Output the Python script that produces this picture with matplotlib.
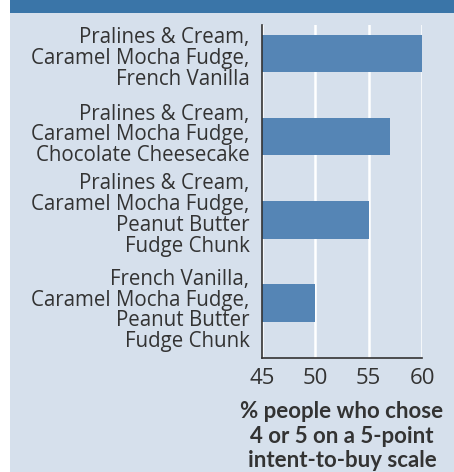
import matplotlib
matplotlib.use("Agg")
import matplotlib.pyplot as plt
from matplotlib.patches import Rectangle
from matplotlib.transforms import ScaledTranslation

# flavour combinations, top to bottom
combos = [
    "Pralines & Cream,\nCaramel Mocha Fudge,\nFrench Vanilla",
    "Pralines & Cream,\nCaramel Mocha Fudge,\nChocolate Cheesecake",
    "Pralines & Cream,\nCaramel Mocha Fudge,\nPeanut Butter\nFudge Chunk",
    "French Vanilla,\nCaramel Mocha Fudge,\nPeanut Butter\nFudge Chunk",
]
pct_4_or_5 = [60, 57, 55, 50]
xticks = [45, 50, 55, 60]

BG = "#d6e0ec"
HEADER = "#3a75a8"
BAR = "#5585b5"
TXT = "#333333"

plt.rcParams["font.family"] = ["Open Sans", "DejaVu Sans"]

fig = plt.figure(figsize=(4.54, 4.72), dpi=100, facecolor="white")
fig.patches.append(Rectangle((10 / 454, 0), 1, 1, transform=fig.transFigure,
                             facecolor=BG, edgecolor="none", zorder=-2))
fig.patches.append(Rectangle((10 / 454, 1 - 13 / 472), 1, 13 / 472,
                             transform=fig.transFigure,
                             facecolor=HEADER, edgecolor="none", zorder=-1))

ax = fig.add_axes([262 / 454, 1 - 358 / 472, 160 / 454, 333 / 472])
ax.set_facecolor(BG)

ypos = list(range(len(combos)))
ax.barh(ypos, [v - 45 for v in pct_4_or_5], left=45, height=0.45,
        color=BAR, zorder=3)

ax.set_xlim(45, 60)
ax.set_ylim(len(combos) - 0.34, -0.34)
ax.set_xticks(xticks)
ax.set_xticklabels([str(t) for t in xticks], fontsize=16, color=TXT)
ax.set_yticks(ypos)
ax.set_yticklabels(combos, fontsize=14.8, color=TXT, linespacing=0.99)
ax.tick_params(length=0)
ax.tick_params(axis="x", pad=7)
ax.tick_params(axis="y", pad=9)

# nudge the long labels apart so the blocks don't run together
nudge_px = [-3, 4, 7, -5]
for lbl, dy in zip(ax.get_yticklabels(), nudge_px):
    lbl.set_transform(lbl.get_transform()
                      + ScaledTranslation(0, dy / 100, fig.dpi_scale_trans))

ax.grid(axis="x", color="white", linewidth=1.8, zorder=1)
for s in ["top", "right"]:
    ax.spines[s].set_visible(False)
for s in ["left", "bottom"]:
    ax.spines[s].set_color(TXT)
    ax.spines[s].set_linewidth(1.2)
    ax.spines[s].set_zorder(4)

ax.set_xlabel("% people who chose\n4 or 5 on a 5-point\nintent-to-buy scale",
              fontsize=16, fontweight="bold", color=TXT, linespacing=1.2,
              labelpad=9, family=["Lato", "DejaVu Sans"])

fig.savefig("out.png", dpi=100, facecolor=fig.get_facecolor())
